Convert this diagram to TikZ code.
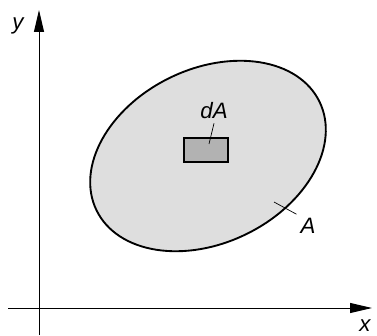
\documentclass[tikz,border=0pt]{standalone}
\usepackage{fontspec}
\setmainfont{Liberation Sans}
\usetikzlibrary{arrows.meta,shapes.geometric}

\begin{document}
\begin{tikzpicture}[
  x=0.03cm, y=0.03cm,
  every node/.style={font=\fontsize{19}{22}\selectfont\itshape},
  axis/.style={line width=0.8pt, -{Triangle[length=0.66cm,width=0.3cm]}},
  region/.style={ellipse, draw, line width=1.6pt, fill=gray!26,
                 minimum width=7.44cm, minimum height=5.22cm,
                 inner sep=0pt, rotate=26},
  elem/.style={draw, line width=1pt, fill=gray!60,
               minimum width=1.32cm, minimum height=0.72cm, inner sep=0pt},
  lead/.style={line width=0.6pt},
]
  \useasboundingbox (0,0) rectangle (377,335);

  % Axes
  \coordinate (ybot) at (39,0);
  \coordinate (ytip) at (39,325);
  \coordinate (xbot) at (8,27);
  \coordinate (xtip) at (372,27);
  \draw[axis] (ybot) -- (ytip);
  \draw[axis] (xbot) -- (xtip);
  \node (ylbl) at (18,309) {y};
  \node (xlbl) at (365,9) {x};

  % Area and element
  \node[region] (area) at (208,179) {};
  \node[elem] (dA) at (206,185) {};

  % Labels
  \node (dAlbl) at (214,224) {dA};
  \coordinate (dAend) at (209,191);
  \draw[lead] (dAlbl.south) -- (dAend);

  \node (Albl) at (308,109) {A};
  \coordinate (Aend) at (274,133);
  \draw[lead] (Albl.north west) -- (Aend);
\end{tikzpicture}
\end{document}
